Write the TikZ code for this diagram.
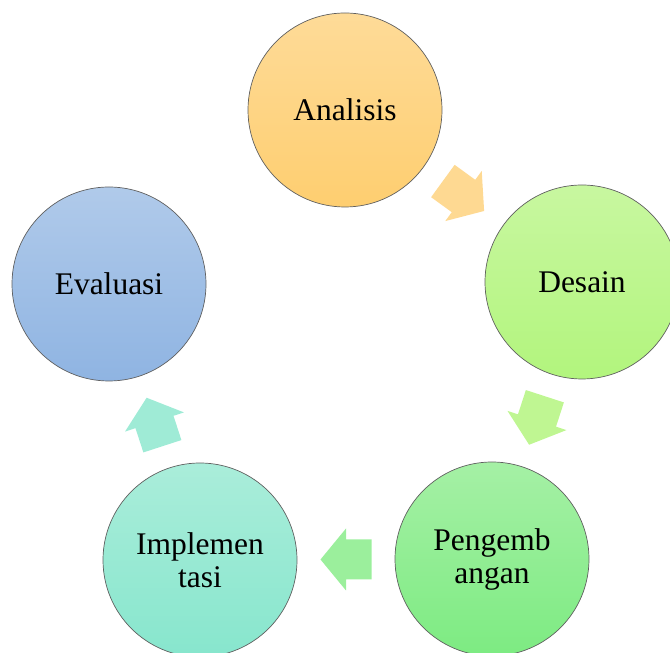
\documentclass[tikz,border=0pt]{standalone}
\usepackage{fontspec}
\setmainfont{Liberation Serif}
\usetikzlibrary{calc}

\definecolor{anaatas}{RGB}{254,219,152}
\definecolor{anabawah}{RGB}{254,206,112}
\definecolor{desatas}{RGB}{200,247,160}
\definecolor{desbawah}{RGB}{178,245,125}
\definecolor{penatas}{RGB}{165,240,165}
\definecolor{penbawah}{RGB}{125,235,130}
\definecolor{impatas}{RGB}{170,237,218}
\definecolor{impbawah}{RGB}{135,230,205}
\definecolor{evaatas}{RGB}{176,202,234}
\definecolor{evabawah}{RGB}{143,180,226}
\definecolor{garis}{RGB}{95,95,95}

\tikzset{
  tahap/.style={circle,minimum size=194pt,inner sep=0pt,draw=garis,line width=0.7pt,
    align=center,font=\fontsize{31.5}{33}\selectfont},
  pics/panah/.style={code={
    \fill[#1] (-25.5,-20) -- (0,-20) -- (0,-31) -- (25.5,0) -- (0,31) -- (0,20) -- (-25.5,20) -- cycle;
  }}
}

\begin{document}
\begin{tikzpicture}[x=1pt,y=1pt]
\useasboundingbox (0,0) rectangle (670,653);
\clip (0,0) rectangle (670,653);

% lingkaran tahap
\node[tahap,top color=anaatas,bottom color=anabawah] (ana) at (345,543) {Analisis};
\node[tahap,top color=desatas,bottom color=desbawah] (des) at (582,371) {Desain};
\node[tahap,top color=penatas,bottom color=penbawah] (pen) at (492,94) {Pengemb\\angan};
\node[tahap,top color=impatas,bottom color=impbawah] (imp) at (200,93) {Implemen\\tasi};
\node[tahap,top color=evaatas,bottom color=evabawah] (eva) at (109,369) {Evaluasi};

% panah antar tahap
\pic[rotate=-36] at ($(ana)!0.5!(des)$) {panah={fill=anaatas!85!anabawah}};
\pic[rotate=-108] at ($(des)!0.5!(pen)$) {panah={fill=desatas!60!desbawah}};
\pic[rotate=180] at ($(pen)!0.5!(imp)$) {panah={fill=penatas!75!penbawah}};
\pic[rotate=108] at ($(imp)!0.5!(eva)$) {panah={fill=impatas!70!impbawah}};
\end{tikzpicture}
\end{document}
